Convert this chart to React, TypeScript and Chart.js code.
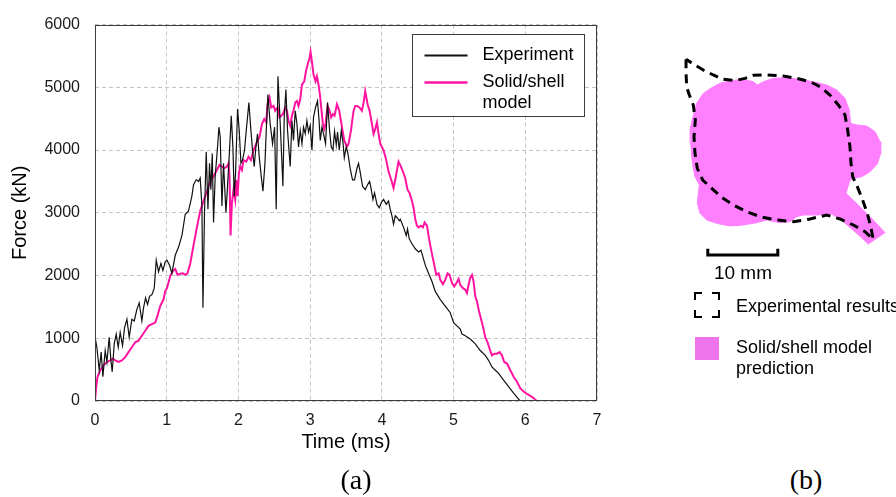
import React, { useEffect, useRef } from "react";
import { Chart, registerables } from "chart.js";

Chart.register(...registerables);

const SANS = '"Liberation Sans", Arial, Helvetica, sans-serif';
const SERIF = '"Liberation Serif", "Times New Roman", serif';

// ---------- Panel (a) data ----------
const seriesLabels = ["Experiment", "Solid/shell model"];
const legendLines = [["Experiment"], ["Solid/shell", "model"]];
const seriesColors = ["#111111", "#FF14A0"];
const xTickValues = [0, 1, 2, 3, 4, 5, 6, 7];
const yTickValues = [0, 1000, 2000, 3000, 4000, 5000, 6000];

const expTime = [
  0.0, 0.005, 0.026, 0.059, 0.086, 0.11, 0.142, 0.166, 0.198, 0.222, 0.24, 0.268, 0.296, 0.324, 0.351,
  0.384, 0.412, 0.445, 0.477, 0.514, 0.547, 0.584, 0.616, 0.654, 0.677, 0.705, 0.733, 0.761, 0.794,
  0.826, 0.854, 0.886, 0.919, 0.947, 0.979, 1.003, 1.04, 1.072, 1.119, 1.165, 1.212, 1.258, 1.304,
  1.351, 1.374, 1.411, 1.444, 1.467, 1.491, 1.505, 1.527, 1.551, 1.575, 1.597, 1.616, 1.635, 1.653,
  1.676, 1.709, 1.728, 1.746, 1.77, 1.792, 1.826, 1.848, 1.876, 1.9, 1.923, 1.941, 1.96, 1.988, 2.011,
  2.035, 2.057, 2.085, 2.109, 2.146, 2.174, 2.197, 2.22, 2.244, 2.266, 2.29, 2.318, 2.342, 2.37, 2.388,
  2.411, 2.443, 2.476, 2.504, 2.527, 2.551, 2.583, 2.601, 2.62, 2.639, 2.662, 2.685, 2.708, 2.722,
  2.746, 2.768, 2.792, 2.816, 2.838, 2.862, 2.886, 2.908, 2.932, 2.955, 2.978, 3.001, 3.025, 3.047,
  3.075, 3.103, 3.123, 3.141, 3.165, 3.187, 3.215, 3.243, 3.271, 3.294, 3.318, 3.34, 3.364, 3.382,
  3.406, 3.434, 3.457, 3.476, 3.503, 3.527, 3.559, 3.591, 3.619, 3.653, 3.675, 3.699, 3.731, 3.768,
  3.801, 3.829, 3.848, 3.876, 3.898, 3.932, 3.964, 3.992, 4.024, 4.061, 4.093, 4.117, 4.141, 4.163,
  4.187, 4.211, 4.243, 4.257, 4.303, 4.34, 4.358, 4.382, 4.42, 4.466, 4.512, 4.545, 4.573, 4.605,
  4.651, 4.699, 4.745, 4.815, 4.884, 4.954, 5.0, 5.047, 5.093, 5.117, 5.163, 5.233, 5.303, 5.372,
  5.442, 5.488, 5.535, 5.582, 5.628, 5.697, 5.767, 5.837, 5.907, 5.93,
];
const expForce = [
  620, 990, 857, 491, 779, 386, 805, 622, 1014, 648, 465, 911, 1067, 857, 1093,
  884, 1171, 1303, 1014, 1303, 1276, 1460, 1564, 1276, 1485, 1642, 1539, 1669, 1696,
  1799, 2245, 2061, 2192, 2080, 2218, 2245, 2166, 2035, 2323, 2454, 2637, 2977, 3030,
  3266, 3448, 3526, 3501, 3553, 3109, 1485, 3003, 3972, 3056, 3788, 3369, 3945, 2846,
  3580, 4051, 4365, 4208, 3109, 3788, 3003, 3423, 3997, 4547, 4051, 3266, 3631, 4652, 4311,
  3788, 3840, 3997, 4311, 4757, 4311, 3997, 3737, 4051, 4259, 3894, 3580, 3344, 3788, 4311,
  4887, 4416, 4102, 4365, 3056, 5175, 4416, 3945, 3423, 4522, 4966, 4311, 3945, 3737,
  4468, 4154, 4625, 4416, 4051, 4311, 4102, 4365, 4259, 4468, 4286, 4390, 3997, 4522,
  4679, 4782, 4495, 4154, 4365, 4259, 4102, 4757, 4311, 4051, 4000, 4300, 4080, 4286,
  3997, 4311, 4130, 3880, 4051, 3945, 3700, 3526, 3526, 3710, 3788, 3640, 3423, 3369,
  3448, 3501, 3396, 3212, 3317, 3134, 3082, 3160, 3212, 3134, 3187, 3056, 2952, 2820,
  2952, 2925, 2873, 2898, 2768, 2637, 2741, 2584, 2506, 2427, 2375, 2402, 2297, 2166,
  2035, 1904, 1747, 1617, 1512, 1407, 1250, 1198, 1146, 1068, 1041, 989, 911, 805,
  727, 648, 543, 491, 440, 334, 229, 126, 31, 0,
];

const simTime = [
  0.0, 0.017, 0.035, 0.073, 0.119, 0.166, 0.212, 0.25, 0.282, 0.328, 0.375, 0.421, 0.467, 0.514,
  0.561, 0.607, 0.654, 0.7, 0.746, 0.794, 0.84, 0.863, 0.909, 0.955, 0.979, 1.003, 1.049, 1.086,
  1.119, 1.151, 1.188, 1.226, 1.258, 1.29, 1.328, 1.374, 1.421, 1.467, 1.513, 1.561, 1.607, 1.653,
  1.7, 1.736, 1.77, 1.802, 1.84, 1.862, 1.876, 1.89, 1.909, 1.932, 1.955, 1.969, 1.988, 2.007,
  2.025, 2.049, 2.071, 2.109, 2.141, 2.174, 2.211, 2.258, 2.294, 2.328, 2.36, 2.388, 2.406, 2.434,
  2.457, 2.49, 2.513, 2.545, 2.573, 2.62, 2.653, 2.676, 2.699, 2.722, 2.746, 2.768, 2.792, 2.816,
  2.838, 2.862, 2.886, 2.918, 2.941, 2.969, 2.992, 3.006, 3.025, 3.047, 3.075, 3.095, 3.117, 3.141,
  3.159, 3.178, 3.197, 3.215, 3.243, 3.271, 3.294, 3.318, 3.34, 3.374, 3.406, 3.444, 3.476, 3.513,
  3.536, 3.569, 3.605, 3.629, 3.653, 3.689, 3.722, 3.745, 3.768, 3.801, 3.829, 3.862, 3.884, 3.908,
  3.932, 3.954, 3.978, 4.024, 4.061, 4.093, 4.131, 4.163, 4.187, 4.211, 4.233, 4.266, 4.294, 4.326,
  4.358, 4.386, 4.42, 4.442, 4.466, 4.49, 4.512, 4.545, 4.573, 4.596, 4.629, 4.651, 4.675, 4.707,
  4.731, 4.759, 4.791, 4.815, 4.852, 4.884, 4.916, 4.944, 4.978, 5.01, 5.038, 5.07, 5.093, 5.131,
  5.163, 5.187, 5.209, 5.233, 5.257, 5.279, 5.303, 5.326, 5.349, 5.372, 5.396, 5.418, 5.442, 5.474,
  5.502, 5.535, 5.568, 5.605, 5.642, 5.675, 5.707, 5.745, 5.791, 5.837, 5.884, 5.93, 5.976, 6.024,
  6.07, 6.116, 6.153, 6.16,
];
const simForce = [
  0, 229, 386, 491, 570, 622, 648, 675, 648, 622, 648, 700, 779, 857,
  936, 962, 1041, 1119, 1198, 1225, 1250, 1328, 1512, 1617, 1747, 1799, 1990, 2072,
  2104, 2010, 2030, 2035, 2010, 2035, 2192, 2481, 2770, 3030, 3187, 3344, 3501, 3580,
  3683, 3762, 3737, 3710, 3737, 3788, 3580, 2637, 3160, 3369, 3212, 3526, 3266, 3631,
  3737, 3683, 3840, 3815, 3894, 3840, 3997, 4129, 4208, 4416, 4495, 4443, 4730, 4836,
  4679, 4704, 4625, 4679, 4522, 4573, 4679, 4625, 4468, 4390, 4547, 4625, 4757, 4782,
  4704, 4809, 5044, 5096, 5253, 5385, 5464, 5567, 5410, 5202, 5096, 5175, 5044, 4836,
  4625, 4416, 4338, 4416, 4704, 4625, 4522, 4573, 4547, 4730, 4625, 4365, 4154, 4051,
  4102, 4311, 4625, 4704, 4704, 4679, 4625, 4757, 4939, 4730, 4625, 4416, 4259, 4338,
  4443, 4259, 4102, 3997, 3840, 3658, 3526, 3396, 3526, 3683, 3815, 3737, 3658, 3553,
  3369, 3317, 3187, 3082, 2898, 2795, 2768, 2795, 2768, 2846, 2795, 2637, 2481, 2297,
  2166, 2010, 2035, 1931, 1862, 1931, 2035, 2010, 1878, 1826, 1878, 1947, 1853, 1799,
  1774, 1721, 1853, 1967, 2010, 1904, 1669, 1590, 1460, 1355, 1250, 1146, 1014, 936,
  832, 727, 754, 754, 779, 727, 622, 597, 491, 386, 308, 204, 151, 115,
  83, 47, 5, 0,
];

// ---------- Panel (b) data (mm, y measured downward) ----------
const shapeX = [
  3.1, 3.81, 4.76, 5.96, 7.14, 8.57, 10.47, 11.9, 12.47, 13.33, 14.76, 16.67, 18.57, 20.47, 22.39,
  23.81, 25.0, 25.61, 25.81, 26.67, 28.1, 29.29, 30.0, 30.1, 29.61, 28.57, 27.39, 26.19, 25.71,
  25.14, 27.14, 29.04, 30.71, 29.53, 28.33, 26.67, 24.76, 23.1, 20.96, 19.04, 18.1, 17.14, 15.71,
  13.81, 12.39, 10.47, 8.57, 6.67, 5.24, 4.29, 3.9, 4.04, 4.19, 3.57, 3.33, 3.1, 2.96, 2.86, 3.1,
];
const shapeY = [
  10.24, 7.61, 6.19, 5.39, 4.76, 4.39, 4.19, 4.53, 5.0, 4.53, 4.04, 3.96, 4.19, 4.53, 5.0,
  5.71, 6.9, 8.57, 10.47, 10.71, 10.86, 11.67, 13.1, 14.76, 16.29, 17.39, 18.1, 18.33, 18.57,
  20.47, 22.39, 24.29, 26.1, 26.9, 27.71, 26.19, 24.53, 23.43, 23.57, 23.57, 23.81, 24.53, 24.67,
  24.29, 24.67, 25.0, 25.14, 24.76, 24.29, 23.33, 21.9, 20.47, 19.29, 18.1, 16.9, 15.24, 13.33, 11.43, 10.24,
];
const outlineX = [
  2.29, 2.29, 2.38, 2.76, 3.33, 3.62, 3.43, 3.57, 3.9, 4.67, 5.96, 7.38, 9.05, 10.95, 12.86, 15.24,
  17.62, 20.0, 22.39, 24.29, 26.19, 27.86, 29.04, 28.67, 28.19, 27.52, 26.76, 26.1, 25.86, 25.71,
  25.38, 25.0, 24.05, 22.86, 21.43, 20.0, 18.1, 16.19, 13.81, 11.9, 10.71, 9.29, 7.62, 6.19, 4.76,
  3.33, 2.29,
];
const outlineY = [
  1.33, 3.33, 5.24, 6.43, 7.86, 10.0, 12.38, 14.76, 16.9, 18.57, 19.76, 21.05, 22.14, 23.1, 23.81,
  24.29, 24.53, 24.14, 23.57, 24.14, 25.0, 25.95, 27.05, 25.24, 23.33, 21.43, 19.52, 18.1, 16.19,
  13.81, 11.43, 9.29, 7.86, 6.43, 5.24, 4.52, 4.05, 3.71, 3.57, 3.62, 4.05, 4.38, 4.19, 3.57, 2.86,
  2.0, 1.33,
];
const scaleBarX = [5.4, 5.4, 15.4, 15.4];
const scaleBarY = [28.4, 29.3, 29.3, 28.4];
const scaleBarLabel = "10 mm";
const legendB = ["Experimental results", "Solid/shell model", "prediction"];

const zip = (xs: number[], ys: number[]) => xs.map((x, i) => ({ x, y: ys[i] }));

const frameAndLegendPlugin = {
  id: "frameAndLegend",
  afterDraw(chart: any) {
    const { ctx, chartArea: a } = chart;
    ctx.save();
    ctx.strokeStyle = "#3c3c3c";
    ctx.lineWidth = 1;
    const l = Math.round(a.left) + 0.5;
    const t = Math.round(a.top) + 0.5;
    const r = Math.round(a.right) - 0.5;
    const b = Math.round(a.bottom) - 0.5;
    ctx.strokeRect(l, t, r - l, b - t);

    // legend box
    const bx = Math.round(a.right) - 184.5;
    const by = Math.round(a.top) + 9.5;
    const bw = 172;
    const bh = 82;
    ctx.fillStyle = "#ffffff";
    ctx.fillRect(bx, by, bw, bh);
    ctx.strokeStyle = "#3c3c3c";
    ctx.strokeRect(bx, by, bw, bh);
    const rows = [21, 48];
    chart.data.datasets.forEach((ds: any, i: number) => {
      const yy = by + rows[i];
      ctx.strokeStyle = ds.borderColor;
      ctx.lineWidth = i === 0 ? 2 : 2.5;
      ctx.beginPath();
      ctx.moveTo(bx + 12, yy);
      ctx.lineTo(bx + 55, yy);
      ctx.stroke();
      ctx.fillStyle = "#000";
      ctx.font = `18px ${SANS}`;
      ctx.textBaseline = "middle";
      ctx.textAlign = "left";
      legendLines[i].forEach((txt, k) => {
        ctx.fillText(txt, bx + 70, yy + k * 21);
      });
    });
    ctx.restore();
  },
};

const polygonFillPlugin = {
  id: "polygonFill",
  beforeDatasetsDraw(chart: any) {
    const { ctx } = chart;
    chart.data.datasets.forEach((ds: any, i: number) => {
      if (!ds.polyFill) return;
      const meta = chart.getDatasetMeta(i);
      ctx.save();
      ctx.beginPath();
      meta.data.forEach((p: any, j: number) => {
        if (j === 0) ctx.moveTo(p.x, p.y);
        else ctx.lineTo(p.x, p.y);
      });
      ctx.closePath();
      ctx.fillStyle = ds.backgroundColor;
      ctx.fill();
      ctx.restore();
    });
  },
};

export default function App() {
  const refA = useRef<HTMLCanvasElement>(null);
  const refB = useRef<HTMLCanvasElement>(null);

  useEffect(() => {
    const chartA = new Chart(refA.current as HTMLCanvasElement, {
      type: "line",
      data: {
        datasets: [
          {
            label: seriesLabels[0],
            data: zip(expTime, expForce),
            borderColor: seriesColors[0],
            backgroundColor: seriesColors[0],
            borderWidth: 1.2,
            pointRadius: 0,
            tension: 0,
          },
          {
            label: seriesLabels[1],
            data: zip(simTime, simForce),
            borderColor: seriesColors[1],
            backgroundColor: seriesColors[1],
            borderWidth: 2,
            pointRadius: 0,
            tension: 0,
          },
        ],
      },
      options: {
        responsive: false,
        animation: false,
        devicePixelRatio: 1,
        layout: { padding: { left: 0, right: 23, top: 19, bottom: 0 } },
        plugins: { legend: { display: false }, tooltip: { enabled: false } },
        scales: {
          x: {
            type: "linear",
            min: xTickValues[0],
            max: xTickValues[xTickValues.length - 1],
            afterBuildTicks: (s: any) => {
              s.ticks = xTickValues.map((v) => ({ value: v }));
            },
            afterFit: (s: any) => {
              s.height = 64;
            },
            ticks: {
              color: "#1a1a1a",
              font: { family: SANS, size: 16 },
              padding: 10,
              callback: (v: any) => String(v),
            },
            grid: { color: "#c4c4c4", drawTicks: false, lineWidth: 1 },
            border: { display: false, dash: [4, 3] },
            title: {
              display: true,
              text: "Time (ms)",
              color: "#000",
              font: { family: SANS, size: 20 },
              padding: { top: 0, bottom: 11 },
            },
          },
          y: {
            type: "linear",
            min: yTickValues[0],
            max: yTickValues[yTickValues.length - 1],
            afterBuildTicks: (s: any) => {
              s.ticks = yTickValues.map((v) => ({ value: v }));
            },
            afterFit: (s: any) => {
              s.width = 95;
            },
            ticks: {
              color: "#1a1a1a",
              font: { family: SANS, size: 16 },
              padding: 15,
              callback: (v: any) => String(v),
            },
            grid: { color: "#c4c4c4", drawTicks: false, lineWidth: 1 },
            border: { display: false, dash: [4, 3] },
            title: {
              display: true,
              text: "Force (kN)",
              color: "#000",
              font: { family: SANS, size: 20 },
              padding: { top: 8, bottom: 0 },
            },
          },
        },
      } as any,
      plugins: [frameAndLegendPlugin],
    });

    const mmW = 220 / 7;
    const mmH = 220 / 7;
    const chartB = new Chart(refB.current as HTMLCanvasElement, {
      type: "scatter",
      data: {
        datasets: [
          {
            label: "Experimental results",
            data: zip(outlineX, outlineY),
            showLine: true,
            borderColor: "#000000",
            borderWidth: 3,
            borderDash: [9, 6],
            pointRadius: 0,
            order: 0,
          },
          {
            label: "Scale bar",
            data: zip(scaleBarX, scaleBarY),
            showLine: true,
            borderColor: "#000000",
            borderWidth: 3,
            pointRadius: 0,
            order: 1,
          },
          {
            label: "Solid/shell model prediction",
            data: zip(shapeX, shapeY),
            showLine: true,
            borderColor: "#FF80FF",
            backgroundColor: "#FF80FF",
            borderWidth: 1,
            pointRadius: 0,
            polyFill: true,
            order: 2,
          } as any,
        ],
      },
      options: {
        responsive: false,
        animation: false,
        devicePixelRatio: 1,
        layout: { padding: 0 },
        plugins: { legend: { display: false }, tooltip: { enabled: false } },
        scales: {
          x: { type: "linear", min: 0, max: mmW, display: false },
          y: { type: "linear", min: 0, max: mmH, reverse: true, display: false },
        },
      } as any,
      plugins: [polygonFillPlugin],
    });

    return () => {
      chartA.destroy();
      chartB.destroy();
    };
  }, []);

  const text = (
    s: string,
    left: number,
    top: number,
    size: number,
    family = SANS,
    center = false
  ) => (
    <div
      style={{
        position: "absolute",
        left,
        top,
        fontFamily: family,
        fontSize: size,
        lineHeight: `${Math.round(size * 1.15)}px`,
        whiteSpace: "nowrap",
        color: "#000",
        transform: center ? "translate(-50%, -50%)" : "translateY(-50%)",
      }}
    >
      {s}
    </div>
  );

  return (
    <div
      style={{
        position: "absolute",
        left: 0,
        top: 0,
        width: 896,
        height: 497,
        background: "#ffffff",
        overflow: "hidden",
      }}
    >
      <canvas ref={refA} width={620} height={465} style={{ position: "absolute", left: 0, top: 0 }} />
      <canvas ref={refB} width={220} height={220} style={{ position: "absolute", left: 670, top: 50 }} />
      {text(scaleBarLabel, 743, 273, 19, SANS, true)}
      <svg width={26} height={26} style={{ position: "absolute", left: 694, top: 292 }}>
        <rect x={1} y={1} width={24} height={24} fill="none" stroke="#000" strokeWidth={2} strokeDasharray="14 10" strokeDashoffset={7} />
      </svg>
      {text(legendB[0], 736, 306, 18)}
      <div style={{ position: "absolute", left: 695, top: 337, width: 24, height: 23, background: "#EE74EE" }} />
      {text(legendB[1], 736, 347, 18)}
      {text(legendB[2], 736, 368, 18)}
      {text("(a)", 356, 480, 28, SERIF, true)}
      {text("(b)", 806, 480, 28, SERIF, true)}
    </div>
  );
}
